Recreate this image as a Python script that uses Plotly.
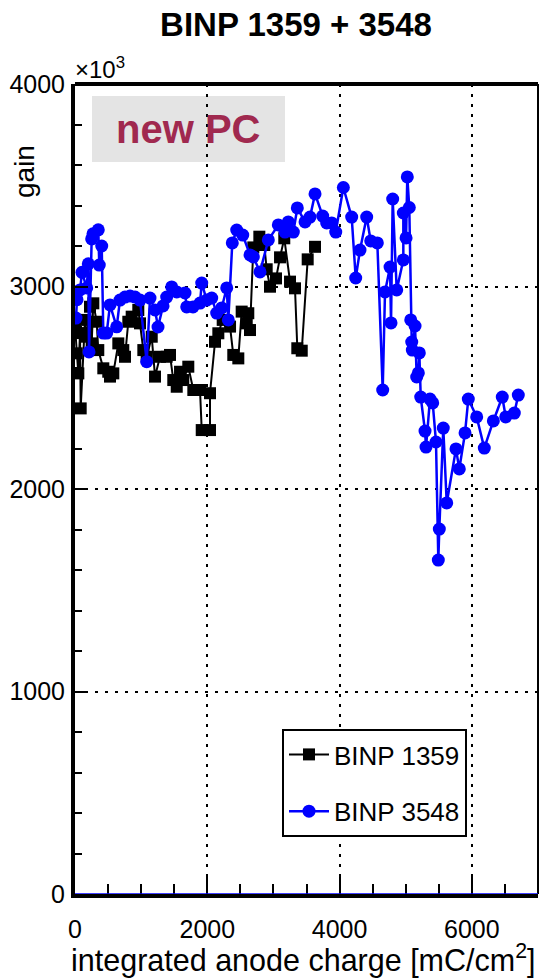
import plotly.graph_objects as go

# ---- data (gain in units of 10^3) ----
black_x = [0, 26, 50, 76, 86, 151, 177, 227, 252, 277, 328, 352, 428, 503, 529, 579, 655, 730, 756,
           806, 857, 957, 983, 1033, 1084, 1160, 1210, 1285, 1386, 1436, 1486, 1538, 1588, 1637, 1713,
           1789, 1890, 1916, 2041, 2041, 2117, 2167, 2233, 2344, 2393, 2469, 2520, 2596, 2620, 2646,
           2696, 2787, 2862, 2898, 2948, 3039, 3100, 3164, 3251, 3326, 3361, 3428, 3518, 3629]
black_y = [2803, 2670, 2571, 2770, 2398, 2835, 2752, 2900, 2719, 2917, 2826, 2686, 2596, 2579, 2555,
           2571, 2719, 2686, 2653, 2826, 2851, 2884, 2818, 2686, 2653, 2752, 2555, 2653, 2653, 2662,
           2538, 2505, 2579, 2538, 2604, 2489, 2489, 2291, 2291, 2473, 2727, 2769, 2835, 2802, 2662,
           2645, 2876, 2818, 2868, 2785, 3193, 3246, 3205, 3085, 2999, 3040, 3144, 3238, 3024, 2991,
           2695, 2683, 3134, 3196]

blue_x = [15, 30, 76, 106, 177, 201, 212, 252, 272, 352, 367, 404, 428, 479, 529, 630, 680, 756, 832,
          907, 983, 1084, 1134, 1210, 1255, 1331, 1386, 1462, 1538, 1663, 1689, 1784, 1890, 1916,
          1991, 2067, 2142, 2218, 2294, 2318, 2378, 2445, 2536, 2646, 2696, 2797, 2923, 3074, 3175,
          3225, 3301, 3361, 3478, 3553, 3629, 3745, 3805, 3881, 3942, 4057, 4183, 4244, 4309, 4410,
          4471, 4571, 4652, 4687, 4763, 4778, 4803, 4864, 4964, 4964, 5005, 5024, 5054, 5076, 5091,
          5100, 5141, 5166, 5191, 5206, 5227, 5292, 5307, 5367, 5408, 5458, 5493, 5508, 5568, 5620,
          5760, 5810, 5897, 5946, 6073, 6188, 6325, 6460, 6512, 6642, 6702]
blue_y = [2844, 2935, 2983, 3070, 2993, 3112, 2677, 3235, 3260, 3280, 3106, 3200, 2770, 2770, 2909,
          2801, 2933, 2948, 2953, 2948, 2933, 2629, 2943, 2884, 2800, 2904, 2948, 2998, 2973, 2968,
          2899, 2899, 2918, 3017, 2933, 2943, 2869, 2894, 2993, 2835, 3215, 3279, 3254, 3156, 3146,
          3072, 3230, 3304, 3269, 3319, 3269, 3388, 3319, 3343, 3457, 3348, 3314, 3314, 3269, 3489,
          3343, 3042, 3180, 3343, 3225, 3215, 2489, 2973, 3096, 2820, 3432, 2983, 3131, 3363, 3240,
          3541, 3390, 2835, 2726, 2686, 2805, 2553, 2573, 2672, 2454, 2286, 2207, 2444, 2425, 2232,
          1649, 1802, 2301, 1931, 2198, 2099, 2277, 2444, 2356, 2202, 2336, 2454, 2356, 2375, 2464]

names = ["BINP 1359", "BINP 3548"]
x_range = [0, 7000]
y_range = [0, 4000]

FONT = "Liberation Sans, Arial, Helvetica, sans-serif"

fig = go.Figure()
fig.add_trace(go.Scatter(x=black_x, y=black_y, mode="lines+markers", name=names[0],
                         line=dict(color="black", width=2),
                         marker=dict(symbol="square", size=12, color="black"),
                         legendgroup="a"))
fig.add_trace(go.Scatter(x=blue_x, y=blue_y, mode="lines+markers", name=names[1],
                         line=dict(color="rgb(0,0,255)", width=2.5),
                         marker=dict(symbol="circle", size=13, color="rgb(0,0,255)"),
                         legendgroup="b"))

axis_common = dict(
    showline=True, linecolor="black", linewidth=4,
    showgrid=True, gridcolor="black", gridwidth=2, griddash="3px,7px",
    zeroline=False, ticks="inside", tickcolor="black", tickwidth=2,
    tickfont=dict(family=FONT, size=25, color="black"),
)

fig.update_xaxes(range=x_range, dtick=2000, tick0=0, ticklen=20,
                 minor=dict(dtick=500, ticklen=10, ticks="inside", tickcolor="black",
                            tickwidth=2, showgrid=False),
                 ticklabelstandoff=10, mirror=False, **axis_common)
fig.update_yaxes(range=y_range, dtick=1000, tick0=0, ticklen=13,
                 minor=dict(dtick=200, ticklen=7, ticks="inside", tickcolor="black",
                            tickwidth=2, showgrid=False),
                 ticklabelstandoff=1, mirror=False, **axis_common)

shapes = [
    # top frame
    dict(type="line", xref="paper", yref="paper", x0=0, x1=1, y0=1, y1=1,
         line=dict(color="black", width=4), layer="above"),
    # right frame
    dict(type="line", xref="paper", yref="paper", x0=1, x1=1, y0=0, y1=1,
         line=dict(color="black", width=2), layer="above"),
    # "new PC" box
    dict(type="rect", xref="paper", yref="paper",
         x0=(92 - 75) / 463, x1=(285 - 75) / 463,
         y0=(894 - 162) / 810, y1=(894 - 96) / 810,
         fillcolor="#e4e4e4", line=dict(width=0), layer="below"),
    # blue baseline along zero
    dict(type="line", xref="paper", yref="y", x0=0, x1=1, y0=0, y1=0,
         line=dict(color="rgb(0,0,255)", width=1.5), layer="above"),
]

annotations = [
    dict(text="<b>new PC</b>", xref="paper", yref="paper",
         x=(188 - 75) / 463, y=(894 - 129) / 810, xanchor="center", yanchor="middle",
         showarrow=False, font=dict(family=FONT, size=40, color="#a0294f")),
    dict(text="×10<sup>3</sup>", xref="paper", yref="paper",
         x=-0.004, y=(894 - 68) / 810, xanchor="left", yanchor="middle",
         showarrow=False, font=dict(family=FONT, size=24, color="black")),
    dict(text="gain", xref="paper", yref="paper", textangle=-90,
         x=(25 - 75) / 463, y=(894 - 172) / 810, xanchor="center", yanchor="middle",
         showarrow=False, font=dict(family=FONT, size=28, color="black")),
    dict(text="integrated anode charge [mC/cm<sup>2</sup>]", xref="paper", yref="paper",
         x=1.0, y=(894 - 959) / 810, xanchor="right", yanchor="middle",
         showarrow=False, font=dict(family=FONT, size=30.5, color="black")),
]

fig.update_layout(
    width=539, height=980,
    margin=dict(l=75, r=1, t=84, b=86),
    paper_bgcolor="white", plot_bgcolor="white",
    title=dict(text="<b>BINP 1359 + 3548</b>", x=296 / 539, xanchor="center",
               y=1 - 24 / 980, yanchor="middle",
               font=dict(family=FONT, size=33, color="black")),
    showlegend=True,
    legend=dict(x=(282 - 75) / 463, y=(894 - 729) / 810, xanchor="left", yanchor="top",
                bgcolor="white", bordercolor="black", borderwidth=2,
                font=dict(family=FONT, size=26, color="black"),
                traceorder="grouped", tracegroupgap=20, itemwidth=40),
    shapes=shapes, annotations=annotations,
)

fig.write_html("out.html")
